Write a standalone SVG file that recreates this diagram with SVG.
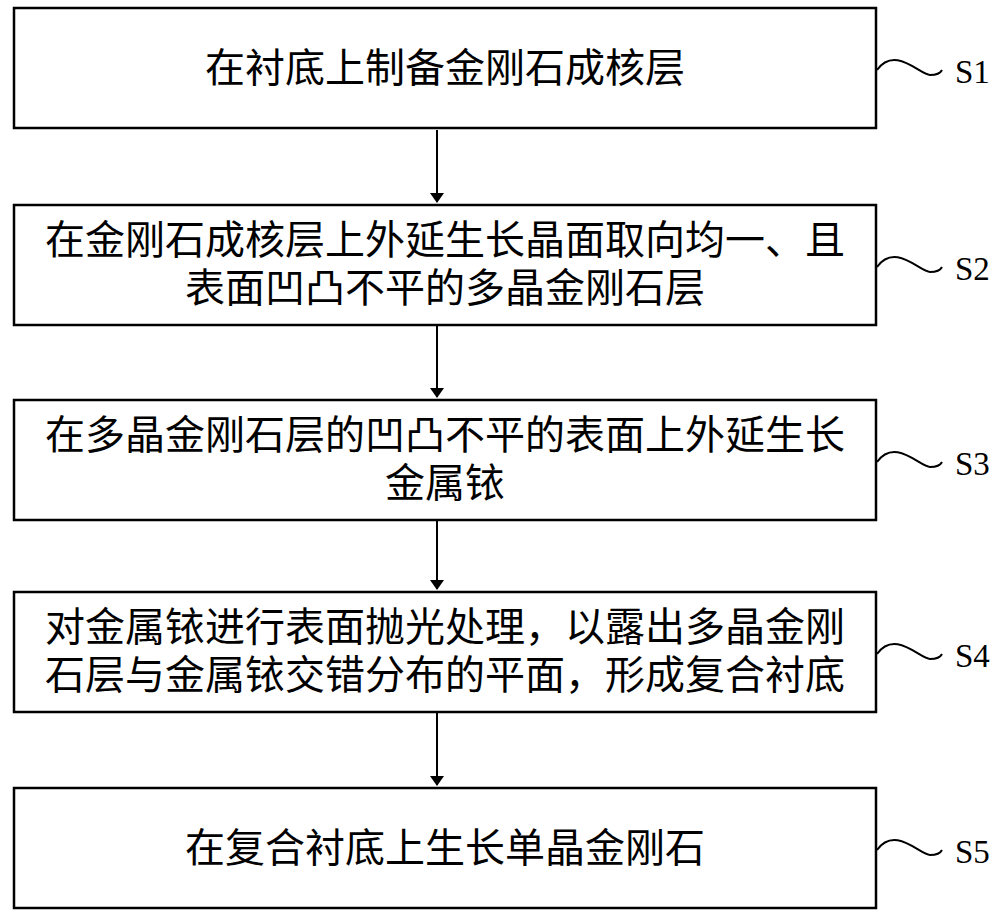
<svg xmlns="http://www.w3.org/2000/svg" width="1000" height="918" viewBox="0 0 1000 918">
<style>
.b{fill:#fff;stroke:#000;stroke-width:2.5}
.t{font-family:"Liberation Serif","Noto Sans CJK SC",serif;font-size:40px;fill:#000;text-anchor:middle}
.l{font-family:"Liberation Serif",serif;font-size:33px;fill:#000}
.c{fill:none;stroke:#000;stroke-width:2}
</style>
<defs><marker id="a" markerWidth="10" markerHeight="14" refX="9" refY="7" orient="auto" markerUnits="userSpaceOnUse"><path d="M0,0 L10,7 L0,14 Z" fill="#000"/></marker></defs>
<rect width="1000" height="918" fill="#fff"/>
<g id="connectors">
<path class="c" d="M437,130 V202" marker-end="url(#a)"/>
<path class="c" d="M437,326 V397" marker-end="url(#a)"/>
<path class="c" d="M437,521 V589" marker-end="url(#a)"/>
<path class="c" d="M437,713 V785" marker-end="url(#a)"/>
</g>
<g id="s1"><rect class="b" x="14" y="8" width="862" height="120"/><text class="t" x="445" y="82">在衬底上制备金刚石成核层</text>
<path class="c" d="M877,70 C895,45 920,75 930,75 C938,75 941,72 942,70"/><text class="l" x="955" y="83">S1</text></g>
<g id="s2"><rect class="b" x="14" y="205" width="862" height="120"/><text class="t" x="445" y="254">在金刚石成核层上外延生长晶面取向均一、且</text><text class="t" x="445" y="302">表面凹凸不平的多晶金刚石层</text>
<path class="c" d="M877,267 C895,242 920,272 930,272 C938,272 941,269 942,267"/><text class="l" x="955" y="280">S2</text></g>
<g id="s3"><rect class="b" x="14" y="400" width="862" height="120"/><text class="t" x="445" y="449">在多晶金刚石层的凹凸不平的表面上外延生长</text><text class="t" x="445" y="497">金属铱</text>
<path class="c" d="M877,462 C895,437 920,467 930,467 C938,467 941,464 942,462"/><text class="l" x="955" y="475">S3</text></g>
<g id="s4"><rect class="b" x="14" y="592" width="862" height="120"/><text class="t" x="445" y="641">对金属铱进行表面抛光处理，以露出多晶金刚</text><text class="t" x="445" y="689">石层与金属铱交错分布的平面，形成复合衬底</text>
<path class="c" d="M877,654 C895,629 920,659 930,659 C938,659 941,656 942,654"/><text class="l" x="955" y="667">S4</text></g>
<g id="s5"><rect class="b" x="14" y="788" width="862" height="120"/><text class="t" x="445" y="862">在复合衬底上生长单晶金刚石</text>
<path class="c" d="M877,850 C895,825 920,855 930,855 C938,855 941,852 942,850"/><text class="l" x="955" y="863">S5</text></g>
</svg>
